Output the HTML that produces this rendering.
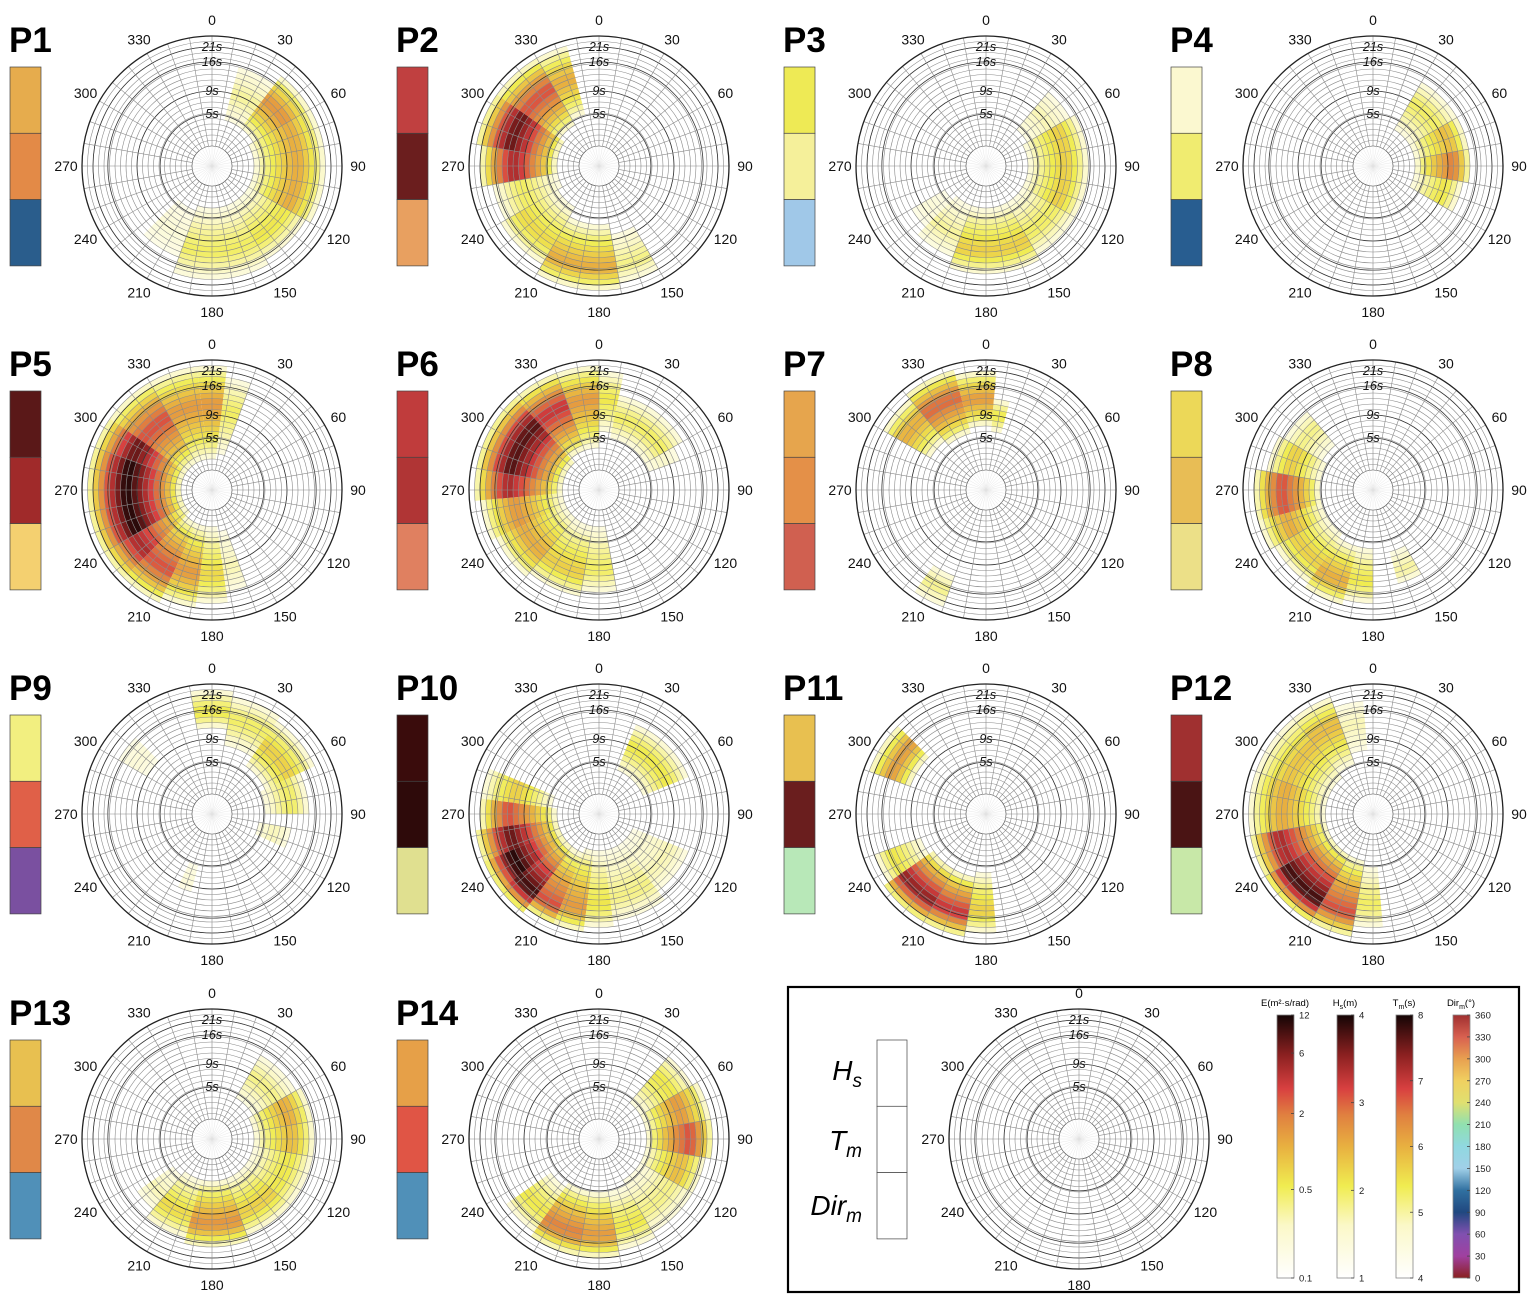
<!DOCTYPE html>
<html><head><meta charset="utf-8"><style>
html,body{margin:0;padding:0;background:#fff;}
svg{display:block;font-family:"Liberation Sans",Arial,sans-serif;}
</style></head><body>
<svg id="fig" width="1535" height="1304" viewBox="0 0 1535 1304" xmlns="http://www.w3.org/2000/svg">
<defs>
<linearGradient id="gE" x1="0" y1="1" x2="0" y2="0">
<stop offset="0" stop-color="#ffffff"/><stop offset="0.2" stop-color="#fbf8c8"/><stop offset="0.35" stop-color="#f0ec50"/><stop offset="0.5" stop-color="#e8b040"/><stop offset="0.62" stop-color="#e08040"/><stop offset="0.72" stop-color="#d84040"/><stop offset="0.85" stop-color="#8a2020"/><stop offset="1" stop-color="#150505"/>
</linearGradient>
<linearGradient id="gD" x1="0" y1="1" x2="0" y2="0">
<stop offset="0" stop-color="#8a2020"/><stop offset="0.083" stop-color="#a040a0"/><stop offset="0.167" stop-color="#8050b0"/><stop offset="0.25" stop-color="#204880"/><stop offset="0.333" stop-color="#3070a0"/><stop offset="0.417" stop-color="#a0d0e8"/><stop offset="0.5" stop-color="#90d8e0"/><stop offset="0.583" stop-color="#90e0b0"/><stop offset="0.667" stop-color="#e0e070"/><stop offset="0.75" stop-color="#f0d060"/><stop offset="0.833" stop-color="#e8a050"/><stop offset="0.917" stop-color="#d86050"/><stop offset="1" stop-color="#a03030"/>
</linearGradient>
</defs>
</svg>
<script>
const panelNames=["P1","P2","P3","P4","P5","P6","P7","P8","P9","P10","P11","P12","P13","P14"];
const barColors=[
["#e6ac4d","#e38a47","#2a5d8c"],["#c04040","#6b1e1e","#e8a060"],["#eeea55","#f5f09a","#a0c8e8"],["#fbf8d0","#f0ec70","#285d90"],
["#5a1818","#a02a2a","#f4d070"],["#c03c3c","#b03535","#e08060"],["#e6a54d","#e49048","#d06050"],["#ecd858","#e8bd55","#ece088"],
["#f2ef80","#e06048","#7a50a0"],["#3a0c0c","#2e0a0a","#e0e090"],["#e8c050","#6a1e1e","#b8e8b8"],["#a03030","#4a1414","#c8e8a8"],
["#e8c050","#e08848","#5090b8"],["#e6a048","#e05545","#5090b8"]];
// each sector: [dir from, dir to, ring from, ring to, peak ring, peak energy m2 s/rad]
const spectra=[
[[15,37.5,5,15,10,0.35],[37.5,60,5,17,12,1.6],[60,120,4,17,12,1.2],[120,150,4,16,12,0.6],[150,200,4,17,12,0.5],[200,225,5,14,10,0.2]],
[[260,280,4,18,12,5],[280,305,4,19,13,8],[305,330,5,19,13,3],[330,345,6,19,13,1.2],[240,260,4,16,11,0.5],[210,240,5,17,13,0.7],[170,210,7,19,15,1.2],[150,170,9,18,15,0.4]],
[[40,60,5,14,10,0.3],[60,120,4,15,11,0.8],[120,150,4,15,11,0.5],[150,200,4,16,12,0.8],[200,225,4,14,10,0.35],[225,240,5,12,9,0.2]],
[[30,60,4,14,10,0.5],[60,80,4,14,11,1.0],[80,100,4,14,11,2.0],[100,120,4,13,10,0.6]],
[[353,7,2,19,12,1.5],[7,20,3,17,11,0.5],[330,353,2,19,12,1.5],[305,330,2,19,12,3],[290,305,2,19,12,8],[240,290,2,19,12,12],[225,240,2,19,13,5],[205,225,3,19,13,3],[188,205,3,18,12,1.5],[172,188,3,17,12,0.7],[160,172,4,15,11,0.3]],
[[0,12,7,18,13,0.6],[12,60,6,14,10,0.5],[60,70,6,12,9,0.25],[340,360,4,19,13,1.5],[318,340,4,19,13,4],[280,318,3,19,13,9],[265,280,3,19,13,5],[245,265,3,18,12,1.5],[220,245,3,17,12,1.2],[190,220,3,16,12,0.8],[170,190,3,15,11,0.5]],
[[345,5,8,18,13,1.5],[320,345,7,19,14,2.5],[300,320,8,18,14,1.2],[5,15,7,13,10,0.6],[200,215,13,19,16,0.4]],
[[255,280,6,18,13,3],[240,255,6,18,13,1.2],[280,300,6,16,12,0.8],[300,320,7,15,12,0.4],[215,240,6,17,13,0.8],[195,215,7,18,14,1.2],[180,195,7,17,13,0.6],[150,165,8,14,12,0.35]],
[[350,10,12,19,15,0.6],[10,35,9,18,14,0.5],[35,65,7,17,12,0.8],[65,90,6,14,11,0.5],[100,115,5,11,8,0.3],[300,315,10,16,13,0.2],[195,205,6,11,9,0.2]],
[[262.5,277.5,4,18,13,3],[277.5,292.5,5,18,12,0.8],[247.5,262.5,4,19,13,8],[232.5,247.5,4,19,14,12],[217.5,232.5,4,19,15,10],[202.5,217.5,4,18,15,3],[187.5,202.5,3,18,14,1.5],[172.5,187.5,3,17,13,0.6],[142.5,172.5,3,16,12,0.4],[112.5,142.5,3,14,11,0.3],[22.5,67.5,5,14,10,0.6]],
[[290,315,11,19,15,1.5],[210,235,8,19,15,6],[190,210,8,19,15,4],[175,190,7,18,14,0.8],[235,250,9,18,15,0.6]],
[[210,240,5,19,15,10],[240,260,5,19,14,5],[190,210,5,19,15,3],[260,290,5,19,13,1.2],[290,320,5,19,13,0.9],[320,340,6,19,14,1.0],[340,355,8,17,13,0.3],[175,190,6,17,13,0.5]],
[[30,60,5,14,10,0.4],[60,80,4,15,11,1.2],[80,100,4,15,11,1.0],[100,130,4,15,11,0.6],[130,160,4,15,11,0.8],[160,195,4,16,12,1.6],[195,220,4,15,11,0.7],[220,235,5,13,10,0.3]],
[[40,60,5,16,12,0.6],[60,80,5,17,12,1.5],[80,100,5,17,13,3],[100,120,5,16,12,1.0],[120,150,5,16,12,0.4],[150,170,6,17,13,0.6],[170,190,6,18,14,1.5],[190,215,6,18,14,2],[215,235,7,17,13,0.6]]];
const dirLabels=[0,30,60,90,120,150,180,210,240,270,300,330];
const periodLabels=["21s","16s","9s","5s"];
const periodRings=[18,15.3,10,5.8];
const eTicks=[0.1,0.5,2,6,12];
const hsTicks=[1,2,3,4];
const tmTicks=[4,5,6,7,8];
const dirTicks=[0,30,60,90,120,150,180,210,240,270,300,330,360];

const NS="http://www.w3.org/2000/svg";
const svg=document.getElementById("fig");
const R0=20, RW=5.5, NR=20, ROUT=R0+RW*NR;
function mk(tag,attrs,parent){const e=document.createElementNS(NS,tag);for(const k in attrs)e.setAttribute(k,attrs[k]);(parent||svg).appendChild(e);return e;}
const cmapStops=[[0,[255,255,255]],[0.2,[251,248,200]],[0.35,[240,236,80]],[0.5,[232,176,64]],[0.62,[224,128,64]],[0.72,[216,64,64]],[0.85,[138,32,32]],[1,[21,5,5]]];
function eColor(E){let t=(Math.log(E)-Math.log(0.1))/(Math.log(12)-Math.log(0.1));t=Math.max(0,Math.min(1,t));
 for(let i=1;i<cmapStops.length;i++){if(t<=cmapStops[i][0]){const a=cmapStops[i-1],b=cmapStops[i];const f=(t-a[0])/(b[0]-a[0]);const c=a[1].map((v,j)=>Math.round(v+(b[1][j]-v)*f));return `rgb(${c[0]},${c[1]},${c[2]})`;}}return "rgb(21,5,5)";}
function pt(cx,cy,r,deg){const a=deg*Math.PI/180;return [cx+r*Math.sin(a),cy-r*Math.cos(a)];}
function sector(cx,cy,r1,r2,a1,a2){const p1=pt(cx,cy,r2,a1),p2=pt(cx,cy,r2,a2),p3=pt(cx,cy,r1,a2),p4=pt(cx,cy,r1,a1);
 const large=(a2-a1)>180?1:0;
 return `M${p1[0]},${p1[1]}A${r2},${r2} 0 ${large} 1 ${p2[0]},${p2[1]}L${p3[0]},${p3[1]}A${r1},${r1} 0 ${large} 0 ${p4[0]},${p4[1]}Z`;}

function drawPolar(cx,cy,data,name){
 const g=mk("g",{});
 
 
 mk("circle",{cx,cy,r:ROUT,fill:"#fff"},g);
 (data||[]).forEach(s=>{
  let [d0,d1,ra,rb,pr,pk]=s; if(d1<d0)d1+=360;
  for(let i=ra;i<rb;i++){
   const c=i+0.5;
   const f=c<pr?(c-ra)/(pr-ra):(rb-c)/(rb-pr);
   const E=Math.exp(Math.log(0.14)+(Math.log(pk)-Math.log(0.14))*Math.pow(Math.max(Math.min(f,1),0),0.6));
   const p=mk("path",{d:sector(cx,cy,R0+i*RW,R0+(i+1)*RW,d0,d1),fill:eColor(E)},g);
   
   
  }
 });
 for(let i=0;i<=NR;i++){const r=R0+i*RW;mk("circle",{cx,cy,r,fill:"none",stroke:"#8a8a8a","stroke-width":0.6},g);}
 periodRings.forEach(k=>mk("circle",{cx,cy,r:R0+k*RW,fill:"none",stroke:"#333","stroke-width":0.8},g));
 for(let a=0;a<360;a+=10){const p1=pt(cx,cy,R0,a),p2=pt(cx,cy,ROUT,a);mk("line",{x1:p1[0],y1:p1[1],x2:p2[0],y2:p2[1],stroke:"#8a8a8a","stroke-width":0.6},g);}
 mk("circle",{cx,cy,r:R0,fill:"#fff",stroke:"#555","stroke-width":0.6},g);
 for(let a=0;a<360;a+=10){const p2=pt(cx,cy,R0,a);mk("line",{x1:cx,y1:cy,x2:p2[0],y2:p2[1],stroke:"#e2e2e2","stroke-width":0.4},g);}
 mk("circle",{cx,cy,r:ROUT,fill:"none",stroke:"#222","stroke-width":1.3},g);
 dirLabels.forEach(a=>{const p=pt(cx,cy,ROUT+16,a);const t=mk("text",{x:p[0],y:p[1]+5,"text-anchor":"middle","font-size":14,fill:"#111"},g);t.textContent=a;
  
  });
 periodLabels.forEach((l,k)=>{const t=mk("text",{x:cx,y:cy-(R0+periodRings[k]*RW)+4,"text-anchor":"middle","font-size":12.5,"font-style":"italic",fill:"#111"},g);t.textContent=l;
  
  });
}

const colX=[0,387,774,1161], rowY=[0,324,648,973];
panelNames.forEach((nm,k)=>{
 const ox=colX[k%4], oy=rowY[Math.floor(k/4)];
 const t=mk("text",{x:ox+9,y:oy+52,"font-size":35,"font-weight":"bold",fill:"#000"});t.textContent=nm;
 
 
 barColors[k].forEach((c,j)=>{const r=mk("rect",{x:ox+10,y:oy+67+j*66.3,width:31,height:66.3,fill:c,stroke:"#444","stroke-width":0.7});
  
  });
 drawPolar(ox+212,oy+166,spectra[k],'polar-spectrum-'+nm.toLowerCase());
});

const box=mk("rect",{x:788,y:987,width:731,height:305,fill:"none",stroke:"#000","stroke-width":2.2});


[["H","s",1080],["T","m",1150],["Dir","m",1215]].forEach(l=>{
 const t=mk("text",{x:862,y:l[2],"text-anchor":"end","font-size":28,"font-style":"italic",fill:"#000"});
 t.innerHTML=`${l[0]}<tspan font-size="19" dy="7">${l[1]}</tspan>`;
 
 
});
for(let j=0;j<3;j++){const r=mk("rect",{x:877,y:1040+j*66.3,width:30,height:66.3,fill:"#fff",stroke:"#444","stroke-width":0.7});
 
 }
drawPolar(1079,1139,[],'legend-polar-template');

function cbar(x,title,sub,unit,ticks,pos,fill){
 const y0=1015,y1=1278;
 const r=mk("rect",{x,y:y0,width:17,height:y1-y0,fill,stroke:"#888","stroke-width":0.8});
 
 
 const t=mk("text",{x:x+8,y:1006,"text-anchor":"middle","font-size":9.5,fill:"#000"});
 t.innerHTML=title+(sub?`<tspan font-size="7" dy="3">${sub}</tspan><tspan dy="-3">${unit}</tspan>`:unit);
 
 
 ticks.forEach(v=>{const yy=y1-(y1-y0)*pos(v);
  mk("line",{x1:x+17,y1:yy,x2:x+14,y2:yy,stroke:"#444","stroke-width":0.8});
  const tt=mk("text",{x:x+22,y:yy+3.5,"font-size":9.5,fill:"#222"});tt.textContent=v;
  
  });
}
cbar(1277,"E","","(m²·s/rad)",eTicks,v=>(Math.log(v)-Math.log(0.1))/(Math.log(12)-Math.log(0.1)),"url(#gE)");
cbar(1337,"H","s","(m)",hsTicks,v=>(v-1)/3,"url(#gE)");
cbar(1396,"T","m","(s)",tmTicks,v=>(v-4)/4,"url(#gE)");
cbar(1453,"Dir","m","(°)",dirTicks,v=>v/360,"url(#gD)");
</script>
</body></html>
